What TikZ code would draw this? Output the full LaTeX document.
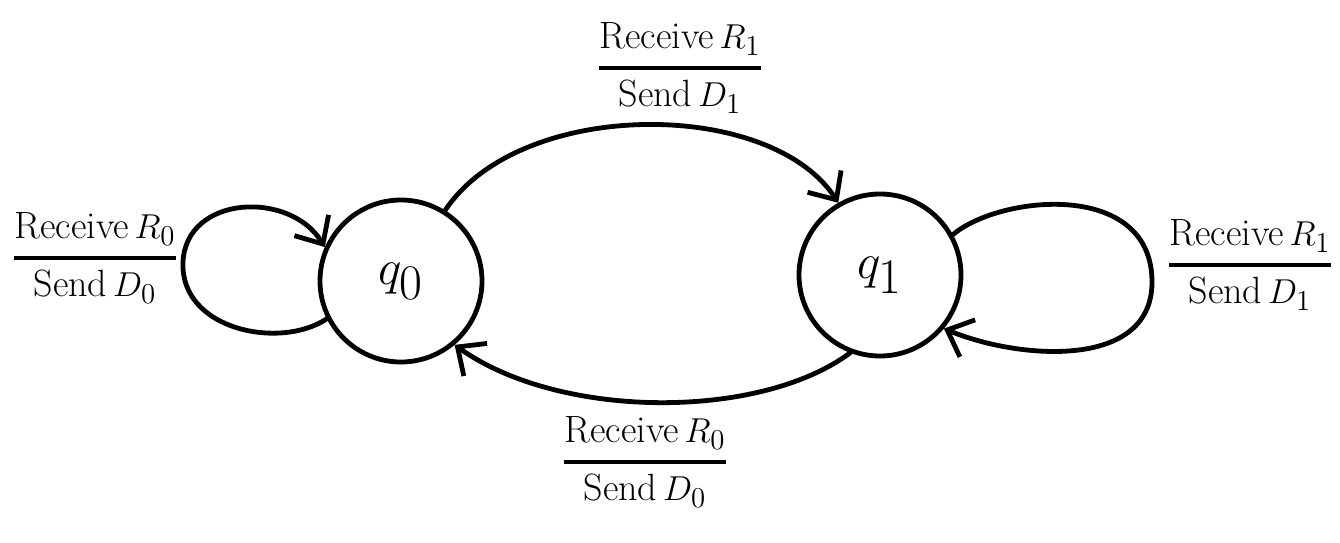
\documentclass[tikz,border=0pt]{standalone}
\usepackage{amsmath}
\usepackage{tikz}
\usetikzlibrary{arrows.meta}

\begin{document}
\begin{tikzpicture}[x=0.5pt, y=-0.5pt, line width=2.4pt, line cap=round,
  state/.style={draw, circle, minimum size=81pt, inner sep=0pt, font=\fontsize{48}{56}\selectfont},
  trans/.style={-{Straight Barb[length=11pt, width=20pt, line width=2.4pt]}},
  lbl/.style={font=\fontsize{19}{23}\selectfont}]
\useasboundingbox (0,0) rectangle (1340,542);
% States
\node[state] (q0) at (401,281) {$q_0$};
\node[state] (q1) at (880,275) {$q_1$};
% Transitions between the states
\draw[trans] (q0.58) .. controls (520,98) and (770,98) .. (q1.120);
\draw[trans] (q1.-111) .. controls (760,420) and (560,420) .. (q0.-50);
% Self loops
\draw[trans] (q0.-153) .. controls (280,350) and (180,330) .. (183,262)
  .. controls (186,195) and (290,190) .. (q0.156);
\draw[trans] (q1.29) .. controls (1000,195) and (1150,180) .. (1152,280)
  .. controls (1154,370) and (1020,360) .. (q1.-40);
% Labels
\node[lbl] (top) at (680,68) {$\genfrac{}{}{1.8pt}{0}{\text{Receive}\,R_1}{\text{Send}\,D_1}$};
\node[lbl] (bot) at (645,462) {$\genfrac{}{}{1.8pt}{0}{\text{Receive}\,R_0}{\text{Send}\,D_0}$};
\node[lbl] (left) at (95,258) {$\genfrac{}{}{1.8pt}{0}{\text{Receive}\,R_0}{\text{Send}\,D_0}$};
\node[lbl] (right) at (1250,265) {$\genfrac{}{}{1.8pt}{0}{\text{Receive}\,R_1}{\text{Send}\,D_1}$};
\end{tikzpicture}
\end{document}
